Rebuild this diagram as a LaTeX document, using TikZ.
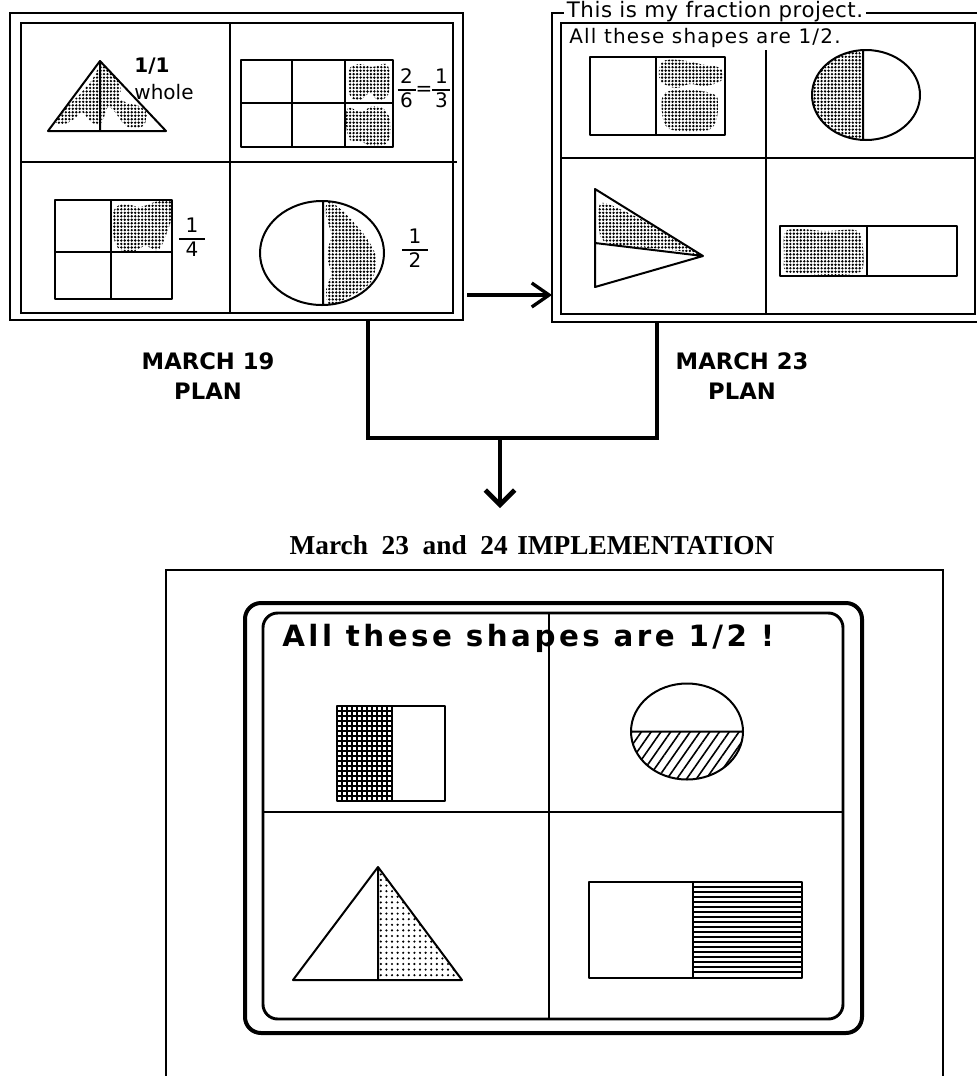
\documentclass[tikz,border=0pt]{standalone}
\usepackage{fontspec}
\setmainfont{Liberation Serif}
\newfontfamily\macfont{DejaVu Sans}
\usetikzlibrary{arrows.meta,positioning,patterns.meta}
\newcommand{\frc}[3][5pt]{{\setlength{\arrayrulewidth}{1.3pt}\begin{tabular}{@{\hspace{#1}}c@{\hspace{#1}}}#2\\[-1pt]\hline\rule{0pt}{12pt}#3\end{tabular}}}

\begin{document}
\begin{tikzpicture}[x=0.75pt, y=-0.75pt,
    panel/.style={draw, line width=1.5pt, inner sep=0pt, outer sep=0pt},
    frm/.style={line width=1.5pt},
    div/.style={line width=1.1pt},
    outline/.style={line width=1.5pt, line join=round},
    blob/.style={pattern={Dots[distance=2.6pt, radius=1pt]}},
    link/.style={line width=3.5pt},
    arr/.style={-{Straight Barb[length=11pt, width=22pt]}, line width=3.5pt},
    arrs/.style={-{Straight Barb[length=13pt, width=18pt]}, line width=2.5pt},
    mac/.style={font=\macfont\fontsize{15}{17}\selectfont, inner sep=0pt},
    lab/.style={font=\macfont\bfseries\fontsize{17}{22.5}\selectfont, align=center, inner sep=0pt},
    head/.style={font=\bfseries\fontsize{20.5}{23}\selectfont, inner sep=0pt},
    big/.style={font=\macfont\bfseries\fontsize{22}{26}\selectfont\addfontfeature{LetterSpace=12}, inner sep=0pt}
  ]
  \useasboundingbox (0,0) rectangle (976,1076);

  % March 19 plan
  \node[panel, minimum width=339.75pt, minimum height=230.25pt] (plan19) at (236.5,166.5) {};
  \draw[frm] (21,23) rectangle (453,313);
  \draw[div] (230,23) -- (230,313) (21,162) -- (457,162);
  \begin{scope}
    \clip (48,131) -- (100,61) -- (166,131) -- cycle;
    \fill[blob] plot[smooth cycle, tension=0.6] coordinates {(56,122) (68,106) (80,94) (92,80) (100,66) (108,70) (117,80) (121,89) (119,98) (128,103) (139,106) (147,114) (143,126) (131,128) (122,122) (115,112) (108,107) (104,117) (99,125) (90,121) (82,112) (74,119) (64,124)};
  \end{scope}
  \draw[outline] (48,131) -- (100,61) -- (166,131) -- cycle (100,61) -- (100,131);
  \node[mac, font=\macfont\bfseries\fontsize{15}{17}\selectfont] (one) at (152,66) {1/1};
  \node[mac] (whole) at (164,92) {whole};
  \fill[blob] plot[smooth cycle, tension=0.6] coordinates {(350,68) (360,64) (372,67) (386,64) (390,76) (388,95) (378,100) (370,93) (360,100) (351,97) (348,84)};
  \fill[blob] plot[smooth cycle, tension=0.6] coordinates {(348,108) (362,112) (372,106) (385,110) (391,125) (387,143) (372,146) (360,141) (350,140) (346,124)};
  \draw[outline] (241,60) rectangle (393,147) (292,60) -- (292,147) (345,60) -- (345,147) (241,103) -- (393,103);
  \node[mac] (sixth) at (424,91) {\frc[2pt]{2}{6}=\frc[2pt]{1}{3}};
  \fill[blob] plot[smooth cycle, tension=0.6] coordinates {(114,210) (125,204) (140,207) (155,202) (171,201) (172,216) (166,235) (158,250) (145,246) (132,252) (118,248) (113,232)};
  \draw[outline] (55,200) rectangle (172,299) (111,200) -- (111,299) (55,252) -- (172,252);
  \node[mac] (quarter) at (192,240) {\frc{1}{4}};
  \begin{scope}
    \clip (322,253) ellipse [x radius=62, y radius=52];
    \fill[blob] plot[smooth cycle, tension=0.6] coordinates {(328,202) (342,210) (356,225) (368,240) (376,258) (372,280) (360,291) (345,299) (330,306) (326,290) (331,274) (327,255) (331,235) (326,215)};
  \end{scope}
  \draw[outline] (322,253) ellipse [x radius=62, y radius=52] (323,201) -- (323,305);
  \node[mac] (halfa) at (415,251) {\frc{1}{2}};

  % March 23 plan
  \node[panel, minimum width=328.5pt, minimum height=231.75pt] (plan23) at (771,167.5) {};
  \node[mac, fill=white, anchor=west, inner xsep=2pt, font=\macfont\fontsize{16}{18}\selectfont\addfontfeature{LetterSpace=2.5}] (proj) at (564,12) {This is my fraction project.};
  \draw[frm] (561,23) rectangle (975,314);
  \draw[div] (766,50) -- (766,314) (561,158) -- (975,158);
  \node[mac, anchor=west, font=\macfont\fontsize{15}{17}\selectfont\addfontfeature{LetterSpace=6}] (allhalf) at (569,38) {All these shapes are 1/2.};
  \fill[blob] plot[smooth cycle, tension=0.6] coordinates {(662,62) (680,60) (700,64) (720,68) (722,80) (705,86) (690,84) (675,88) (660,80)};
  \fill[blob] plot[smooth cycle, tension=0.6] coordinates {(665,93) (690,90) (715,95) (718,110) (712,128) (690,132) (668,128) (662,112)};
  \draw[outline] (590,57) rectangle (725,135) (656,57) -- (656,135);
  \begin{scope}
    \clip (866,95) ellipse [x radius=54, y radius=45];
    \fill[blob] plot[smooth cycle, tension=0.5] coordinates {(858,50) (836,58) (818,75) (812,98) (818,120) (836,134) (862,142) (864,118) (861,96) (864,70)};
  \end{scope}
  \draw[outline] (866,95) ellipse [x radius=54, y radius=45] (863,50) -- (863,140);
  \begin{scope}
    \clip (595,189) -- (703,256) -- (595,287) -- cycle;
    \fill[blob] plot[smooth cycle, tension=0.5] coordinates {(600,204) (622,210) (650,224) (680,240) (700,255) (680,251) (650,248) (620,246) (601,238)};
  \end{scope}
  \draw[outline] (595,189) -- (703,256) -- (595,287) -- cycle (595,243) -- (703,256);
  \fill[blob] plot[smooth cycle, tension=0.5] coordinates {(785,232) (800,229) (825,231) (855,230) (862,240) (862,270) (840,275) (810,274) (786,272) (784,255)};
  \draw[outline] (780,226) rectangle (957,276) (867,226) -- (867,276);

  \node[lab] (lab19) at (208,376) {MARCH 19\\PLAN};
  \node[lab] (lab23) at (742,376) {MARCH 23\\PLAN};

  % connectors
  \coordinate (ay) at (0,295);
  \coordinate (jl) at (368,438);
  \coordinate (jr) at (657,438);
  \coordinate (jm) at (500,438);
  \coordinate (tip) at (500,508);
  \draw[arrs] (plan19.east |- ay) ++(4,0) -- (plan23.west |- ay);
  \draw[link] (plan19.south -| jl) -- (jl) -- (jr) -- (plan23.south -| jr);
  \draw[arr] (jm) -- (tip);

  % implementation
  \node[head] (impl) at (532,545) {March\hspace{0.25em} 23\hspace{0.25em} and\hspace{0.25em} 24\hspace{0.1em} IMPLEMENTATION};
  \draw[frm] (166,1090) -- (166,570) -- (943,570) -- (943,1090);
  \node[draw, line width=3pt, rounded corners=12pt, minimum width=462.75pt, minimum height=322.5pt, inner sep=0pt] (tab) at (553.5,818) {};
  \draw[line width=2.2pt, rounded corners=11pt] (263,613) rectangle (843,1019);
  \draw[div] (549,613) -- (549,1019) (263,812) -- (843,812);
  \node[big, anchor=west] (shapes) at (282,638) {All these shapes are 1/2 !};
  \foreach \gx in {342,347,...,387} \draw[line width=1.3pt] (\gx,706) -- (\gx,801);
  \foreach \gy in {711,716,...,796} \draw[line width=1.3pt] (337,\gy) -- (392,\gy);
  \draw[outline] (337,706) rectangle (445,801) (392,706) -- (392,801);
  \begin{scope}
    \clip (620,731.5) rectangle (750,790);
    \fill[pattern={Lines[angle=55, distance=6pt, line width=1.2pt]}] (687,731.5) ellipse [x radius=56, y radius=48];
  \end{scope}
  \draw[outline] (687,731.5) ellipse [x radius=56, y radius=48] (631,731.5) -- (743,731.5);
  \fill[pattern={Dots[distance=4.2pt, radius=0.9pt]}] (378,867) -- (462,980) -- (378,980) -- cycle;
  \draw[outline] (293,980) -- (378,867) -- (462,980) -- cycle (378,867) -- (378,980);
  \foreach \ly in {887,892,...,973} \draw[line width=1.4pt] (693,\ly) -- (802,\ly);
  \draw[outline] (589,882) rectangle (802,978) (693,882) -- (693,978);
\end{tikzpicture}
\end{document}
